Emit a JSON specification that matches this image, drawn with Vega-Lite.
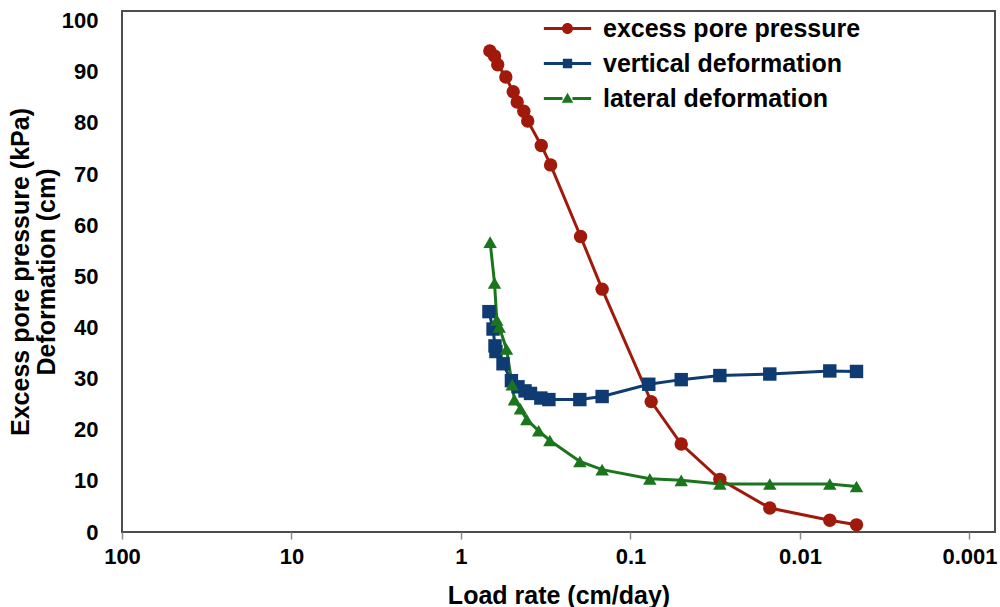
{
  "$schema": "https://vega.github.io/schema/vega-lite/v6.json",
  "width": 873,
  "height": 521,
  "autosize": {"type": "none"},
  "padding": {"left": 122, "top": 11, "right": 5, "bottom": 75},
  "background": "white",
  "config": {
    "view": {"stroke": "#4d4d4d", "strokeWidth": 2},
    "font": "Liberation Sans",
    "axis": {"grid": false, "domain": false, "labelFont": "Liberation Sans", "labelFontWeight": "bold", "labelFontSize": 22, "labelColor": "#000", "titleFont": "Liberation Sans", "titleFontWeight": "bold", "titleFontSize": 25, "titleColor": "#000"}
  },
  "datasets": {
    "d": [
      {"series": "excess pore pressure", "rate": 0.676, "value": 94.1},
      {"series": "excess pore pressure", "rate": 0.634, "value": 93.1},
      {"series": "excess pore pressure", "rate": 0.607, "value": 91.4},
      {"series": "excess pore pressure", "rate": 0.544, "value": 89.0},
      {"series": "excess pore pressure", "rate": 0.492, "value": 86.1},
      {"series": "excess pore pressure", "rate": 0.466, "value": 84.1},
      {"series": "excess pore pressure", "rate": 0.426, "value": 82.3},
      {"series": "excess pore pressure", "rate": 0.404, "value": 80.4},
      {"series": "excess pore pressure", "rate": 0.336, "value": 75.6},
      {"series": "excess pore pressure", "rate": 0.296, "value": 71.8},
      {"series": "excess pore pressure", "rate": 0.197, "value": 57.8},
      {"series": "excess pore pressure", "rate": 0.147, "value": 47.5},
      {"series": "excess pore pressure", "rate": 0.0755, "value": 25.5},
      {"series": "excess pore pressure", "rate": 0.0502, "value": 17.2},
      {"series": "excess pore pressure", "rate": 0.0297, "value": 10.3},
      {"series": "excess pore pressure", "rate": 0.01507, "value": 4.7},
      {"series": "excess pore pressure", "rate": 0.00667, "value": 2.3},
      {"series": "excess pore pressure", "rate": 0.00464, "value": 1.4},
      {"series": "vertical deformation", "rate": 0.684, "value": 43.1},
      {"series": "vertical deformation", "rate": 0.647, "value": 39.7},
      {"series": "vertical deformation", "rate": 0.630, "value": 36.4},
      {"series": "vertical deformation", "rate": 0.622, "value": 35.3},
      {"series": "vertical deformation", "rate": 0.565, "value": 32.9},
      {"series": "vertical deformation", "rate": 0.504, "value": 29.6},
      {"series": "vertical deformation", "rate": 0.461, "value": 28.4},
      {"series": "vertical deformation", "rate": 0.419, "value": 27.6},
      {"series": "vertical deformation", "rate": 0.389, "value": 27.1},
      {"series": "vertical deformation", "rate": 0.338, "value": 26.2},
      {"series": "vertical deformation", "rate": 0.303, "value": 25.9},
      {"series": "vertical deformation", "rate": 0.199, "value": 25.9},
      {"series": "vertical deformation", "rate": 0.147, "value": 26.5},
      {"series": "vertical deformation", "rate": 0.078, "value": 28.9},
      {"series": "vertical deformation", "rate": 0.0502, "value": 29.8},
      {"series": "vertical deformation", "rate": 0.0297, "value": 30.6},
      {"series": "vertical deformation", "rate": 0.01507, "value": 30.9},
      {"series": "vertical deformation", "rate": 0.00667, "value": 31.5},
      {"series": "vertical deformation", "rate": 0.00464, "value": 31.4},
      {"series": "lateral deformation", "rate": 0.673, "value": 56.7},
      {"series": "lateral deformation", "rate": 0.634, "value": 48.7},
      {"series": "lateral deformation", "rate": 0.615, "value": 41.5},
      {"series": "lateral deformation", "rate": 0.595, "value": 40.1},
      {"series": "lateral deformation", "rate": 0.539, "value": 35.8},
      {"series": "lateral deformation", "rate": 0.499, "value": 28.8},
      {"series": "lateral deformation", "rate": 0.484, "value": 25.9},
      {"series": "lateral deformation", "rate": 0.446, "value": 24.1},
      {"series": "lateral deformation", "rate": 0.409, "value": 22.0},
      {"series": "lateral deformation", "rate": 0.348, "value": 19.8},
      {"series": "lateral deformation", "rate": 0.299, "value": 17.9},
      {"series": "lateral deformation", "rate": 0.199, "value": 13.8},
      {"series": "lateral deformation", "rate": 0.147, "value": 12.2},
      {"series": "lateral deformation", "rate": 0.0769, "value": 10.4},
      {"series": "lateral deformation", "rate": 0.0502, "value": 10.1},
      {"series": "lateral deformation", "rate": 0.0297, "value": 9.4},
      {"series": "lateral deformation", "rate": 0.01507, "value": 9.4},
      {"series": "lateral deformation", "rate": 0.00667, "value": 9.4},
      {"series": "lateral deformation", "rate": 0.00464, "value": 8.9}
    ]
  },
  "data": {"name": "d"},
  "encoding": {
    "x": {"field": "rate", "type": "quantitative",
      "scale": {"type": "log", "domain": [0.000707, 100], "reverse": true, "nice": false},
      "axis": {"values": [100, 10, 1, 0.1, 0.01, 0.001], "labelExpr": "datum.value >= 1 ? format(datum.value, 'd') : format(datum.value, '~g')", "tickSize": 7, "tickColor": "#8c8c8c", "tickWidth": 1.5, "labelPadding": 7, "labelFlush": false, "title": "Load rate (cm/day)", "titlePadding": 16}},
    "y": {"field": "value", "type": "quantitative",
      "scale": {"domain": [0, 101.9], "nice": false},
      "axis": {"values": [0, 10, 20, 30, 40, 50, 60, 70, 80, 90, 100], "ticks": false, "labelPadding": 24, "labelFlush": false, "title": ["Excess pore pressure (kPa)", "Deformation (cm)"], "titleLineHeight": 26, "titlePadding": 2}}
  },
  "layer": [
    {"mark": {"type": "line", "strokeWidth": 3},
      "encoding": {"color": {"field": "series", "type": "nominal",
        "scale": {"domain": ["excess pore pressure", "vertical deformation", "lateral deformation"], "range": ["#A01A0B", "#0F3B73", "#1A751C"]}, "legend": null}}},
    {"mark": {"type": "point", "filled": true, "opacity": 1, "size": 180},
      "encoding": {
        "color": {"field": "series", "type": "nominal",
          "scale": {"domain": ["excess pore pressure", "vertical deformation", "lateral deformation"], "range": ["#A01A0B", "#0F3B73", "#1A751C"]}, "legend": null},
        "shape": {"field": "series", "type": "nominal",
          "scale": {"domain": ["excess pore pressure", "vertical deformation", "lateral deformation"], "range": ["circle", "square", "triangle-up"]}, "legend": null}}},
    {"mark": {"type": "point", "filled": true, "opacity": 0, "size": 121},
      "encoding": {
        "color": {"field": "series", "type": "nominal",
          "scale": {"domain": ["excess pore pressure", "vertical deformation", "lateral deformation"], "range": ["#A01A0B", "#0F3B73", "#1A751C"]},
          "legend": {"title": null, "orient": "none", "legendX": 433, "legendY": 5, "padding": 0, "labelOffset": 23, "labelFont": "Liberation Sans", "labelFontWeight": "bold", "labelFontSize": 25, "labelColor": "#000", "symbolSize": 121, "symbolOpacity": 1, "symbolStrokeWidth": 0, "rowPadding": 9, "labelLimit": 400}},
        "shape": {"field": "series", "type": "nominal",
          "scale": {"domain": ["excess pore pressure", "vertical deformation", "lateral deformation"],
            "range": ["M-4.3,-0.27H-0.9V0.27H-4.3Z M4.3,0.27H0.9V-0.27H4.3Z M0,-1A1,1 0 1,1 0,1A1,1 0 1,1 0,-1Z",
                      "M-4.3,-0.27H-0.8V0.27H-4.3Z M4.3,0.27H0.8V-0.27H4.3Z M-0.85,-0.85H0.85V0.85H-0.85Z",
                      "M-4.3,-0.27H-0.9V0.27H-4.3Z M4.3,0.27H0.9V-0.27H4.3Z M0,-1.05L1.05,0.75H-1.05Z"]},
          "legend": {"title": null, "orient": "none", "legendX": 433, "legendY": 5, "padding": 0, "labelOffset": 23, "labelFont": "Liberation Sans", "labelFontWeight": "bold", "labelFontSize": 25, "labelColor": "#000", "symbolSize": 121, "symbolOpacity": 1, "symbolStrokeWidth": 0, "rowPadding": 9, "labelLimit": 400}}
      }}
  ],
  "resolve": {"scale": {"shape": "independent", "color": "independent"}}
}
